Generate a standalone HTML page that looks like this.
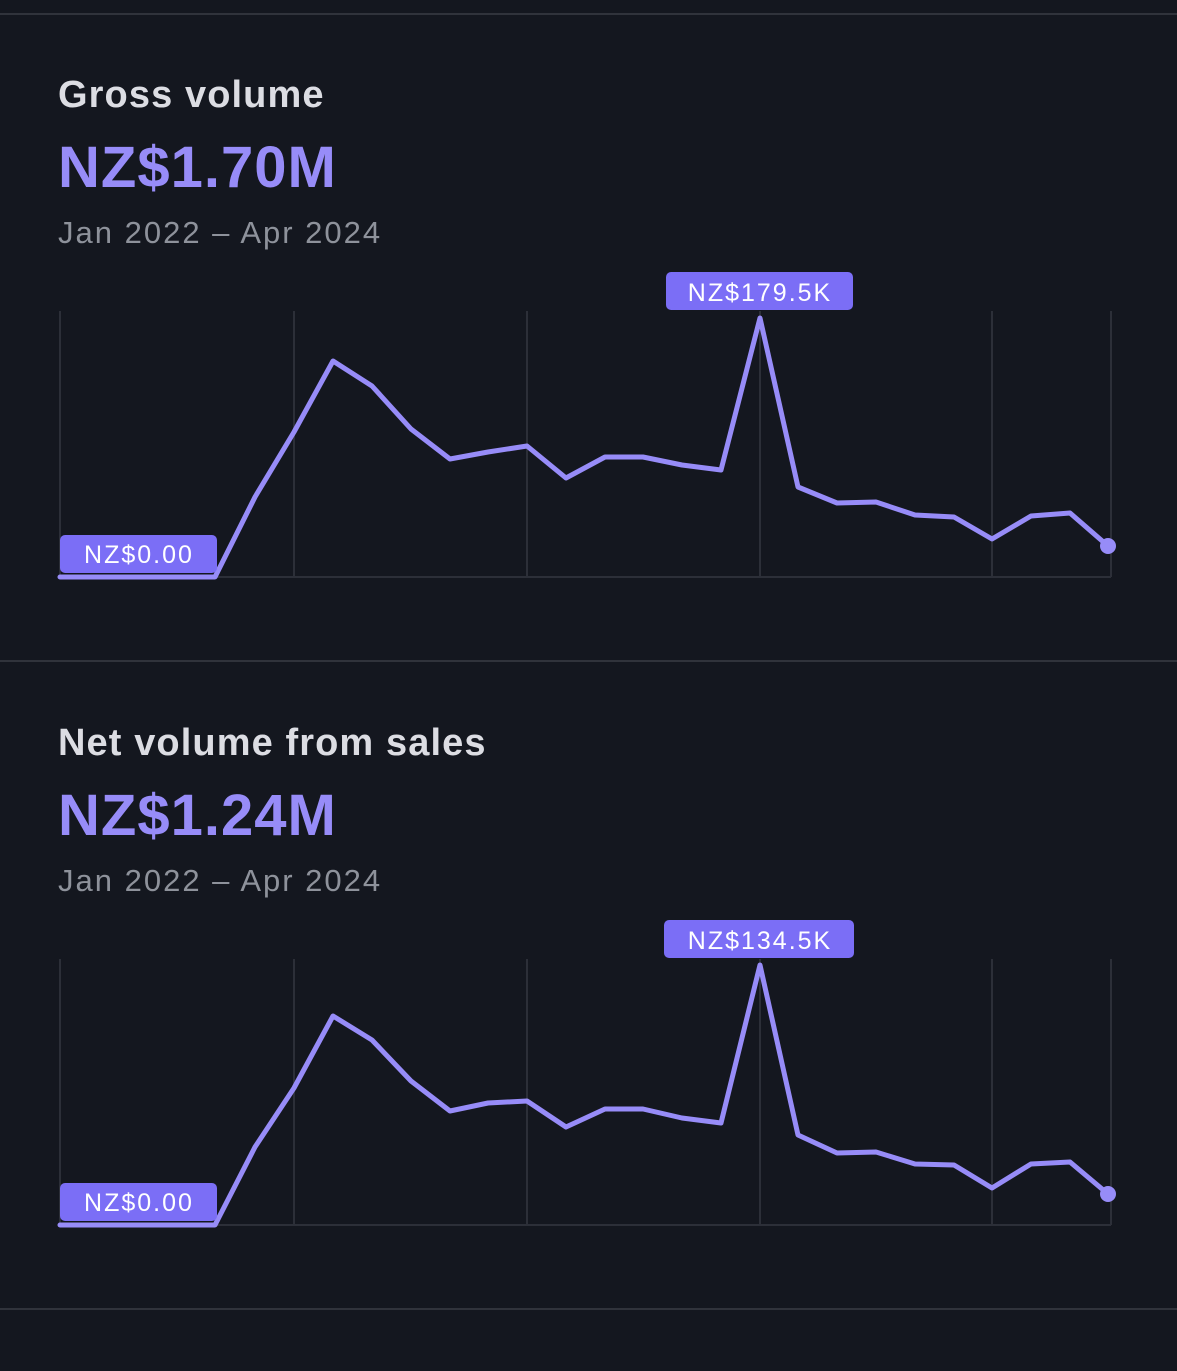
<!DOCTYPE html>
<html><head><meta charset="utf-8"><style>
html,body{margin:0;padding:0;background:#14171f;width:1177px;height:1371px;overflow:hidden;font-family:"Liberation Sans",sans-serif;}
.t{position:absolute;left:58px;white-space:nowrap}
.h{font-size:38px;color:#dcdde3;font-weight:bold;letter-spacing:1.1px}
.n{font-size:58px;color:#978cf8;font-weight:bold;letter-spacing:1px}
.d{font-size:31px;color:#8e929b;letter-spacing:2px}
</style></head><body>
<div style="position:absolute;left:0;top:13px;width:1177px;height:2px;background:#30333b"></div>
<div style="position:absolute;left:0;top:660px;width:1177px;height:2px;background:#30333b"></div>
<div style="position:absolute;left:0;top:1308px;width:1177px;height:2px;background:#30333b"></div>
<div class="t h" style="top:74px">Gross volume</div>
<div class="t n" style="top:134px">NZ$1.70M</div>
<div class="t d" style="top:215px">Jan 2022 – Apr 2024</div>
<div class="t h" style="top:722px">Net volume from sales</div>
<div class="t n" style="top:782px">NZ$1.24M</div>
<div class="t d" style="top:863px">Jan 2022 – Apr 2024</div>
<svg width="1177" height="1371" style="position:absolute;left:0;top:0" font-family="Liberation Sans, sans-serif">
<g stroke="#2c2f38" stroke-width="2">
<path d="M60 311V577M294 311V577M527 311V577M760 311V577M992 311V577M1111 311V577M60 577H1111"/>
<path d="M60 959V1225M294 959V1225M527 959V1225M760 959V1225M992 959V1225M1111 959V1225M60 1225H1111"/>
</g>
<g fill="none" stroke="#978cf8" stroke-width="5" stroke-linejoin="round" stroke-linecap="round">
<polyline points="60,577 215,577 255,497 294,432 333,361 372,386 411,429 450,459 488,452 527,446 566,478 605,457 643,457 682,465 721,470 760,318 798,487 837,503 876,502 915,515 954,517 992,539 1031,516 1070,513 1108,546"/>
<polyline points="60,1225 215,1225 255,1147 294,1088 333,1016 372,1040 411,1081 450,1111 488,1103 527,1101 566,1127 605,1109 643,1109 682,1118 721,1123 760,965 798,1135 837,1153 876,1152 915,1164 954,1165 992,1188 1031,1164 1070,1162 1108,1194"/>
</g>
<circle cx="1108" cy="546" r="8" fill="#978cf8"/>
<circle cx="1108" cy="1194" r="8" fill="#978cf8"/>
<g fill="#7b6ef6">
<rect x="666" y="272" width="187" height="38" rx="5"/>
<rect x="60" y="535" width="157" height="38" rx="5"/>
<rect x="664" y="920" width="190" height="38" rx="5"/>
<rect x="60" y="1183" width="157" height="38" rx="5"/>
</g>
<g fill="#fff" font-size="25" text-anchor="middle" letter-spacing="2">
<text x="760" y="301">NZ$179.5K</text>
<text x="139" y="563">NZ$0.00</text>
<text x="760" y="949">NZ$134.5K</text>
<text x="139" y="1211">NZ$0.00</text>
</g>
</svg>
</body></html>
